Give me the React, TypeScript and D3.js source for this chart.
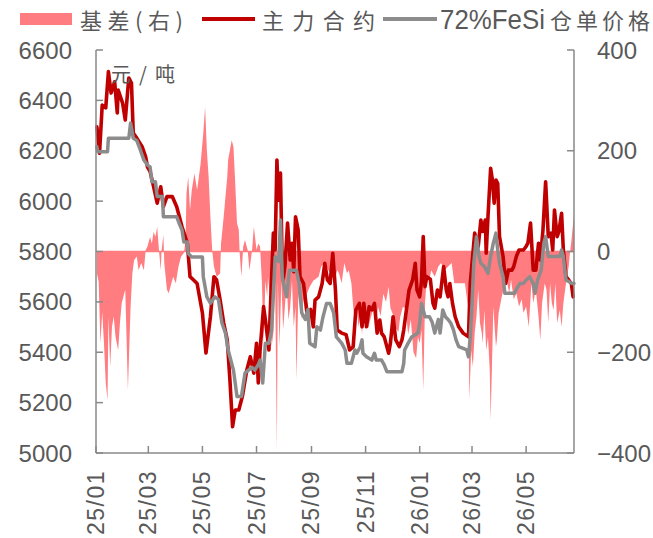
import React from "react";
import * as d3 from "d3";

// 基差 (right axis, 元/吨)
const basis: [string, number][] = [
  ["2025-01-02", -43], ["2025-01-04", -60], ["2025-01-06", -182], ["2025-01-08", -120],
  ["2025-01-10", -182], ["2025-01-12", -261], ["2025-01-14", -295], ["2025-01-15", -129],
  ["2025-01-17", -229], ["2025-01-19", -150], ["2025-01-21", -129], ["2025-01-23", -169],
  ["2025-01-26", -196], ["2025-01-28", -142], ["2025-01-30", -102], ["2025-02-03", -76],
  ["2025-02-06", -275], ["2025-02-09", -109], ["2025-02-11", -43], ["2025-02-13", -17],
  ["2025-02-16", -10], ["2025-02-18", -37], ["2025-02-21", -23], ["2025-02-24", -37],
  ["2025-02-26", 3], ["2025-02-28", 10], ["2025-03-03", 29], ["2025-03-05", 16],
  ["2025-03-07", 39], ["2025-03-09", 29], ["2025-03-11", 49], ["2025-03-13", 3],
  ["2025-03-15", -37], ["2025-03-16", 3], ["2025-03-18", 33], ["2025-03-19", -23],
  ["2025-03-22", -76], ["2025-03-24", -83], ["2025-03-27", -63], ["2025-03-29", -50],
  ["2025-04-01", -63], ["2025-04-04", -30], ["2025-04-07", -10], ["2025-04-10", -3],
  ["2025-04-12", 20], ["2025-04-13", 115], ["2025-04-15", 148], ["2025-04-17", 82],
  ["2025-04-19", 122], ["2025-04-22", 155], ["2025-04-25", 122], ["2025-04-27", 148],
  ["2025-04-29", 175], ["2025-05-02", 235], ["2025-05-04", 287], ["2025-05-06", 201],
  ["2025-05-08", 148], ["2025-05-10", 69], ["2025-05-12", 3], ["2025-05-14", -30],
  ["2025-05-17", -50], ["2025-05-21", -43], ["2025-05-22", 16], ["2025-05-25", 69],
  ["2025-05-27", 109], ["2025-05-29", 148], ["2025-05-30", 182], ["2025-06-01", 201],
  ["2025-06-03", 221], ["2025-06-05", 208], ["2025-06-07", 135], ["2025-06-09", 56],
  ["2025-06-11", 43], ["2025-06-12", -3], ["2025-06-14", -50], ["2025-06-16", 10],
  ["2025-06-18", 23], ["2025-06-21", 3], ["2025-06-23", -37], ["2025-06-26", 3],
  ["2025-06-28", 49], ["2025-07-01", 3], ["2025-07-03", 16], ["2025-07-05", 10],
  ["2025-07-07", -58], ["2025-07-09", -182], ["2025-07-11", -58], ["2025-07-13", -90],
  ["2025-07-14", -50], ["2025-07-16", -90], ["2025-07-18", -189], ["2025-07-20", -162],
  ["2025-07-22", -58], ["2025-07-24", -394], ["2025-07-25", -58], ["2025-07-27", -189],
  ["2025-07-28", -122], ["2025-07-29", -58], ["2025-07-31", -155], ["2025-08-02", -109],
  ["2025-08-04", -58], ["2025-08-06", -136], ["2025-08-08", -109], ["2025-08-10", -58],
  ["2025-08-12", -150], ["2025-08-14", -109], ["2025-08-15", -255], ["2025-08-17", -95],
  ["2025-08-19", -70], ["2025-08-21", -136], ["2025-08-23", -95], ["2025-08-25", -122],
  ["2025-08-27", -83], ["2025-08-30", -70], ["2025-09-03", -58], ["2025-09-09", -50],
  ["2025-09-12", -30], ["2025-09-16", -23], ["2025-09-20", -37], ["2025-09-24", -50],
  ["2025-09-27", -56], ["2025-09-30", -37], ["2025-10-02", -43], ["2025-10-05", -63],
  ["2025-10-08", -23], ["2025-10-11", -43], ["2025-10-13", -37], ["2025-10-16", -63],
  ["2025-10-18", -110], ["2025-10-20", -140], ["2025-10-22", -110], ["2025-10-24", -150],
  ["2025-10-26", -125], ["2025-10-28", -165], ["2025-10-29", -135], ["2025-11-01", -110],
  ["2025-11-04", -152], ["2025-11-07", -130], ["2025-11-10", -112], ["2025-11-13", -140],
  ["2025-11-15", -110], ["2025-11-18", -128], ["2025-11-21", -84], ["2025-11-24", -100],
  ["2025-11-27", -70], ["2025-11-29", -112], ["2025-12-02", -126], ["2025-12-05", -152],
  ["2025-12-08", -160], ["2025-12-10", -130], ["2025-12-13", -110], ["2025-12-16", -112],
  ["2025-12-19", -165], ["2025-12-22", -135], ["2025-12-25", -200], ["2025-12-28", -212],
  ["2025-12-30", -169], ["2026-01-01", -182], ["2026-01-03", -156], ["2026-01-05", -275],
  ["2026-01-07", -102], ["2026-01-09", -50], ["2026-01-12", -56], ["2026-01-14", -37],
  ["2026-01-18", -50], ["2026-01-22", -30], ["2026-01-25", -23], ["2026-01-29", -37],
  ["2026-02-02", -30], ["2026-02-06", -23], ["2026-02-09", -63], ["2026-02-13", -63],
  ["2026-02-17", -63], ["2026-02-21", -63], ["2026-02-25", -116], ["2026-02-26", -295],
  ["2026-02-28", -196], ["2026-03-02", -229], ["2026-03-04", -162], ["2026-03-06", -129],
  ["2026-03-08", -76], ["2026-03-10", -142], ["2026-03-12", -162], ["2026-03-13", -182],
  ["2026-03-15", -116], ["2026-03-17", -196], ["2026-03-19", -169], ["2026-03-21", -235],
  ["2026-03-22", -335], ["2026-03-24", -189], ["2026-03-25", -109], ["2026-03-28", -189],
  ["2026-03-29", -176], ["2026-03-31", -122], ["2026-04-03", -95], ["2026-04-06", -70],
  ["2026-04-09", -56], ["2026-04-12", -83], ["2026-04-14", -56], ["2026-04-17", -95],
  ["2026-04-20", -83], ["2026-04-23", -109], ["2026-04-26", -95], ["2026-04-28", -122],
  ["2026-05-01", -109], ["2026-05-04", -150], ["2026-05-07", -63], ["2026-05-09", -102],
  ["2026-05-12", -76], ["2026-05-15", -129], ["2026-05-17", -176], ["2026-05-19", -102],
  ["2026-05-22", -63], ["2026-05-24", -76], ["2026-05-26", -142], ["2026-05-28", -63],
  ["2026-05-30", -102], ["2026-06-01", -116], ["2026-06-03", -63], ["2026-06-05", -142],
  ["2026-06-08", -116], ["2026-06-10", -150], ["2026-06-12", -102], ["2026-06-15", -63],
  ["2026-06-18", -30], ["2026-06-19", -10], ["2026-06-21", 20], ["2026-06-23", 56],
  ["2026-06-24", 70],
];

// 主力合约 (left axis, 元/吨)
const mainContract: [string, number][] = [
  ["2025-01-02", 6295], ["2025-01-05", 6190], ["2025-01-08", 6381], ["2025-01-12", 6370],
  ["2025-01-15", 6514], ["2025-01-18", 6429], ["2025-01-22", 6474], ["2025-01-25", 6350],
  ["2025-01-26", 6441], ["2025-01-31", 6389], ["2025-02-03", 6322], ["2025-02-07", 6489],
  ["2025-02-10", 6469], ["2025-02-12", 6270], ["2025-02-16", 6250], ["2025-02-22", 6216],
  ["2025-02-26", 6176], ["2025-02-28", 6136], ["2025-03-03", 6117], ["2025-03-07", 6057],
  ["2025-03-11", 5992], ["2025-03-15", 6057], ["2025-03-18", 5978], ["2025-03-22", 6018],
  ["2025-03-28", 6018], ["2025-04-02", 5978], ["2025-04-08", 5898], ["2025-04-14", 5833],
  ["2025-04-17", 5700], ["2025-04-21", 5687], ["2025-04-25", 5673], ["2025-05-01", 5556],
  ["2025-05-05", 5397], ["2025-05-10", 5541], ["2025-05-14", 5700], ["2025-05-17", 5687],
  ["2025-05-21", 5607], ["2025-05-25", 5516], ["2025-05-29", 5449], ["2025-06-01", 5290],
  ["2025-06-04", 5104], ["2025-06-07", 5171], ["2025-06-11", 5171], ["2025-06-15", 5224],
  ["2025-06-20", 5329], ["2025-06-24", 5382], ["2025-06-28", 5317], ["2025-07-01", 5436],
  ["2025-07-03", 5278], ["2025-07-05", 5409], ["2025-07-09", 5581], ["2025-07-12", 5501],
  ["2025-07-15", 5409], ["2025-07-16", 5516], ["2025-07-20", 5873], ["2025-07-22", 5806],
  ["2025-07-24", 6163], ["2025-07-26", 6004], ["2025-07-28", 6111], ["2025-07-30", 5740],
  ["2025-07-31", 5687], ["2025-08-02", 5740], ["2025-08-05", 5913], ["2025-08-08", 5766],
  ["2025-08-10", 5833], ["2025-08-12", 5720], ["2025-08-14", 5938], ["2025-08-17", 5885],
  ["2025-08-19", 5700], ["2025-08-23", 5673], ["2025-08-27", 5556], ["2025-08-31", 5570],
  ["2025-09-03", 5501], ["2025-09-05", 5607], ["2025-09-09", 5620], ["2025-09-13", 5673],
  ["2025-09-16", 5753], ["2025-09-19", 5687], ["2025-09-22", 5673], ["2025-09-25", 5793],
  ["2025-09-28", 5647], ["2025-09-30", 5488], ["2025-10-05", 5476], ["2025-10-10", 5470],
  ["2025-10-14", 5409], ["2025-10-18", 5422], ["2025-10-21", 5568], ["2025-10-25", 5594],
  ["2025-10-28", 5501], ["2025-10-30", 5594], ["2025-11-02", 5501], ["2025-11-05", 5581],
  ["2025-11-08", 5568], ["2025-11-11", 5594], ["2025-11-14", 5476], ["2025-11-17", 5528],
  ["2025-11-19", 5476], ["2025-11-22", 5461], ["2025-11-27", 5396], ["2025-11-29", 5436],
  ["2025-12-02", 5541], ["2025-12-05", 5449], ["2025-12-09", 5422], ["2025-12-12", 5449],
  ["2025-12-14", 5488], ["2025-12-17", 5568], ["2025-12-20", 5647], ["2025-12-24", 5687],
  ["2025-12-27", 5753], ["2025-12-29", 5647], ["2026-01-01", 5620], ["2026-01-03", 5680],
  ["2026-01-05", 5859], ["2026-01-07", 5660], ["2026-01-09", 5700], ["2026-01-13", 5690],
  ["2026-01-16", 5594], ["2026-01-18", 5575], ["2026-01-21", 5647], ["2026-01-24", 5620],
  ["2026-01-28", 5740], ["2026-01-31", 5647], ["2026-02-02", 5620], ["2026-02-04", 5673],
  ["2026-02-07", 5594], ["2026-02-10", 5541], ["2026-02-14", 5501], ["2026-02-19", 5476],
  ["2026-02-25", 5461], ["2026-02-27", 5673], ["2026-03-01", 5753], ["2026-03-04", 5873],
  ["2026-03-08", 5820], ["2026-03-11", 5925], ["2026-03-13", 5880], ["2026-03-16", 5925],
  ["2026-03-17", 5793], ["2026-03-19", 5938], ["2026-03-22", 6130], ["2026-03-24", 6084],
  ["2026-03-26", 5992], ["2026-03-28", 6084], ["2026-03-30", 6070], ["2026-04-01", 5859],
  ["2026-04-05", 5780], ["2026-04-08", 5673], ["2026-04-11", 5726], ["2026-04-15", 5726],
  ["2026-04-17", 5740], ["2026-04-20", 5780], ["2026-04-23", 5806], ["2026-04-28", 5806],
  ["2026-05-01", 5820], ["2026-05-03", 5833], ["2026-05-06", 5913], ["2026-05-09", 5726],
  ["2026-05-12", 5726], ["2026-05-15", 5833], ["2026-05-17", 5766], ["2026-05-20", 5885],
  ["2026-05-23", 6077], ["2026-05-26", 5859], ["2026-05-29", 5873], ["2026-05-31", 5806],
  ["2026-06-02", 5965], ["2026-06-05", 5859], ["2026-06-07", 5880], ["2026-06-10", 5952],
  ["2026-06-12", 5806], ["2026-06-15", 5700], ["2026-06-18", 5687], ["2026-06-21", 5673],
  ["2026-06-23", 5620],
];

// 72%FeSi 仓单价格 (left axis, 元/吨)
const receiptPrice: [string, number][] = [
  ["2025-01-02", 6216], ["2025-01-03", 6196], ["2025-01-14", 6196], ["2025-01-15", 6250],
  ["2025-02-07", 6250], ["2025-02-09", 6310], ["2025-02-12", 6250], ["2025-02-16", 6240],
  ["2025-02-20", 6203], ["2025-02-24", 6163], ["2025-02-28", 6143], ["2025-03-03", 6136],
  ["2025-03-05", 6077], ["2025-03-09", 6077], ["2025-03-11", 6018], ["2025-03-17", 6018],
  ["2025-03-18", 5938], ["2025-04-02", 5938], ["2025-04-05", 5910], ["2025-04-08", 5885],
  ["2025-04-10", 5838], ["2025-04-14", 5838], ["2025-04-15", 5792], ["2025-04-19", 5778],
  ["2025-05-01", 5778], ["2025-05-02", 5700], ["2025-05-06", 5620], ["2025-05-10", 5595],
  ["2025-05-15", 5620], ["2025-05-19", 5610], ["2025-05-23", 5516], ["2025-05-27", 5476],
  ["2025-05-30", 5409], ["2025-06-05", 5329], ["2025-06-09", 5224], ["2025-06-14", 5224],
  ["2025-06-18", 5317], ["2025-06-22", 5329], ["2025-06-26", 5340], ["2025-06-29", 5329],
  ["2025-07-03", 5350], ["2025-07-05", 5369], ["2025-07-08", 5278], ["2025-07-11", 5436],
  ["2025-07-15", 5436], ["2025-07-18", 5488], ["2025-07-22", 5779], ["2025-07-26", 5760],
  ["2025-07-28", 5925], ["2025-07-30", 5700], ["2025-08-02", 5647], ["2025-08-04", 5620],
  ["2025-08-07", 5726], ["2025-08-15", 5726], ["2025-08-18", 5673], ["2025-08-21", 5556],
  ["2025-08-25", 5530], ["2025-08-28", 5570], ["2025-08-30", 5436], ["2025-09-05", 5422],
  ["2025-09-07", 5501], ["2025-09-11", 5488], ["2025-09-14", 5541], ["2025-09-18", 5594],
  ["2025-09-22", 5594], ["2025-09-26", 5556], ["2025-09-29", 5461], ["2025-10-05", 5436],
  ["2025-10-09", 5409], ["2025-10-11", 5356], ["2025-10-16", 5356], ["2025-10-20", 5409],
  ["2025-10-22", 5396], ["2025-10-26", 5422], ["2025-10-28", 5449], ["2025-10-29", 5396],
  ["2025-11-02", 5382], ["2025-11-08", 5369], ["2025-11-11", 5396], ["2025-11-13", 5369],
  ["2025-11-19", 5369], ["2025-11-22", 5350], ["2025-11-25", 5323], ["2025-12-12", 5323],
  ["2025-12-14", 5356], ["2025-12-15", 5409], ["2025-12-19", 5436], ["2025-12-23", 5461],
  ["2025-12-30", 5476], ["2026-01-01", 5516], ["2026-01-03", 5594], ["2026-01-07", 5541],
  ["2026-01-12", 5541], ["2026-01-15", 5520], ["2026-01-18", 5476], ["2026-01-22", 5530],
  ["2026-01-24", 5476], ["2026-01-27", 5568], ["2026-01-30", 5541], ["2026-02-02", 5530],
  ["2026-02-05", 5516], ["2026-02-08", 5490], ["2026-02-11", 5449], ["2026-02-14", 5422],
  ["2026-02-19", 5415], ["2026-02-23", 5409], ["2026-02-25", 5382], ["2026-02-27", 5460],
  ["2026-03-01", 5594], ["2026-03-03", 5753], ["2026-03-06", 5859], ["2026-03-09", 5780],
  ["2026-03-11", 5753], ["2026-03-15", 5740], ["2026-03-19", 5713], ["2026-03-22", 5780],
  ["2026-03-25", 5833], ["2026-03-28", 5873], ["2026-03-30", 5806], ["2026-04-01", 5753],
  ["2026-04-05", 5700], ["2026-04-07", 5634], ["2026-04-18", 5634], ["2026-04-20", 5650],
  ["2026-04-24", 5673], ["2026-04-28", 5673], ["2026-05-01", 5687], ["2026-05-05", 5700],
  ["2026-05-09", 5673], ["2026-05-11", 5634], ["2026-05-14", 5687], ["2026-05-18", 5726],
  ["2026-05-21", 5833], ["2026-05-23", 5859], ["2026-05-26", 5780], ["2026-06-08", 5780],
  ["2026-06-10", 5806], ["2026-06-12", 5780], ["2026-06-15", 5687], ["2026-06-22", 5673],
  ["2026-06-24", 5673],
];

const leftTicks = [5000, 5200, 5400, 5600, 5800, 6000, 6200, 6400, 6600];
const rightTicks = [-400, -200, 0, 200, 400];
const monthLabels = ["25/01", "25/03", "25/05", "25/07", "25/09", "25/11", "26/01", "26/03", "26/05"];

const W = 653;
const H = 538;
const plot = { left: 96, right: 574, top: 50, bottom: 453 };

const BASIS_FILL = "#FF7C80";
const MAIN_RED = "#C00000";
const RECEIPT_GRAY = "#8C8C8C";
const AXIS_GRAY = "#898989";
const TEXT_GRAY = "#595959";
const NUM_FONT = "'Liberation Sans', Arial, sans-serif";
const CJK_FONT = "'Noto Sans CJK SC', 'Noto Sans', sans-serif";

const parseDay = (s: string) => new Date(s + "T00:00:00Z");
const labelToDate = (s: string) => parseDay(`20${s.slice(0, 2)}-${s.slice(3, 5)}-01`);

type Pt = [string, number];

export default function App() {
  const x = d3
    .scaleUtc()
    .domain([parseDay("2025-01-01"), parseDay("2026-06-24")])
    .range([plot.left, plot.right]);
  const yL = d3.scaleLinear().domain([5000, 6600]).range([plot.bottom, plot.top]);
  const yR = d3.scaleLinear().domain([-400, 400]).range([plot.bottom, plot.top]);

  const basisArea = d3
    .area<Pt>()
    .x((d) => x(parseDay(d[0])))
    .y0(yR(0))
    .y1((d) => yR(d[1]));
  const priceLine = d3
    .line<Pt>()
    .x((d) => x(parseDay(d[0])))
    .y((d) => yL(d[1]));

  return (
    <svg
      width={W}
      height={H}
      viewBox={`0 0 ${W} ${H}`}
      style={{ position: "absolute", left: 0, top: 0, background: "#fff" }}
    >
      <rect x={0} y={0} width={W} height={H} fill="#fff" />

      {/* basis area on the right axis */}
      <path d={basisArea(basis) || ""} fill={BASIS_FILL} stroke="none" />
      <line
        x1={plot.left}
        x2={plot.right}
        y1={yR(0)}
        y2={yR(0)}
        stroke={BASIS_FILL}
        strokeWidth={1.5}
      />

      {/* price lines on the left axis */}
      <path
        d={priceLine(mainContract) || ""}
        fill="none"
        stroke={MAIN_RED}
        strokeWidth={3.6}
        strokeLinejoin="round"
        strokeLinecap="round"
      />
      <path
        d={priceLine(receiptPrice) || ""}
        fill="none"
        stroke={RECEIPT_GRAY}
        strokeWidth={3.5}
        strokeLinejoin="round"
        strokeLinecap="round"
      />

      {/* axes */}
      <g stroke={AXIS_GRAY} strokeWidth={1.5} fill="none">
        <line x1={plot.left} x2={plot.left} y1={plot.top} y2={plot.bottom} />
        <line x1={plot.right} x2={plot.right} y1={plot.top} y2={plot.bottom} />
        <line x1={plot.left} x2={plot.right} y1={plot.bottom} y2={plot.bottom} />
        {leftTicks.map((t) => (
          <line key={`lt${t}`} x1={plot.left} x2={plot.left + 7} y1={yL(t)} y2={yL(t)} />
        ))}
        {rightTicks.map((t) => (
          <line key={`rt${t}`} x1={plot.right - 7} x2={plot.right} y1={yR(t)} y2={yR(t)} />
        ))}
        {monthLabels.map((m) => (
          <line
            key={`bt${m}`}
            x1={x(labelToDate(m))}
            x2={x(labelToDate(m))}
            y1={plot.bottom}
            y2={plot.bottom - 7}
          />
        ))}
      </g>

      <g fill={TEXT_GRAY} fontFamily={NUM_FONT} fontSize={24}>
        {leftTicks.map((t) => (
          <text key={`ll${t}`} x={72} y={yL(t)} textAnchor="end" dominantBaseline="central">
            {t}
          </text>
        ))}
        {rightTicks.map((t) => (
          <text key={`rl${t}`} x={597} y={yR(t)} textAnchor="start" dominantBaseline="central">
            {t < 0 ? `\u2212${Math.abs(t)}` : t}
          </text>
        ))}
        {monthLabels.map((m) => (
          <text
            key={`ml${m}`}
            transform={`translate(${x(labelToDate(m))},470) rotate(-90)`}
            textAnchor="end"
            dominantBaseline="central"
            fontSize={23}
            letterSpacing={1.5}
          >
            {m}
          </text>
        ))}
      </g>

      {/* unit */}
      <text
        x={111}
        y={73}
        fill={TEXT_GRAY}
        fontFamily={CJK_FONT}
        fontSize={20}
        dominantBaseline="central"
        textLength={64}
        lengthAdjust="spacing"
      >
        元/吨
      </text>

      {/* legend */}
      <g fill={TEXT_GRAY} dominantBaseline="central">
        <rect x={20} y={13} width={52} height={12} fill={BASIS_FILL} />
        <text x={80} y={19} fontFamily={CJK_FONT} fontSize={22} textLength={103} lengthAdjust="spacing">
          基差(右)
        </text>
        <line x1={202} x2={255} y1={19} y2={19} stroke={MAIN_RED} strokeWidth={4} />
        <text x={262} y={19} fontFamily={CJK_FONT} fontSize={22} textLength={113} lengthAdjust="spacing">
          主力合约
        </text>
        <line x1={383} x2={437} y1={19} y2={19} stroke={RECEIPT_GRAY} strokeWidth={4} />
        <text
          x={440}
          y={20}
          fontFamily={NUM_FONT}
          fontSize={27}
          textLength={105}
          lengthAdjust="spacingAndGlyphs"
        >
          72%FeSi
        </text>
        <text x={550} y={19} fontFamily={CJK_FONT} fontSize={22} textLength={100} lengthAdjust="spacing">
          仓单价格
        </text>
      </g>
    </svg>
  );
}
